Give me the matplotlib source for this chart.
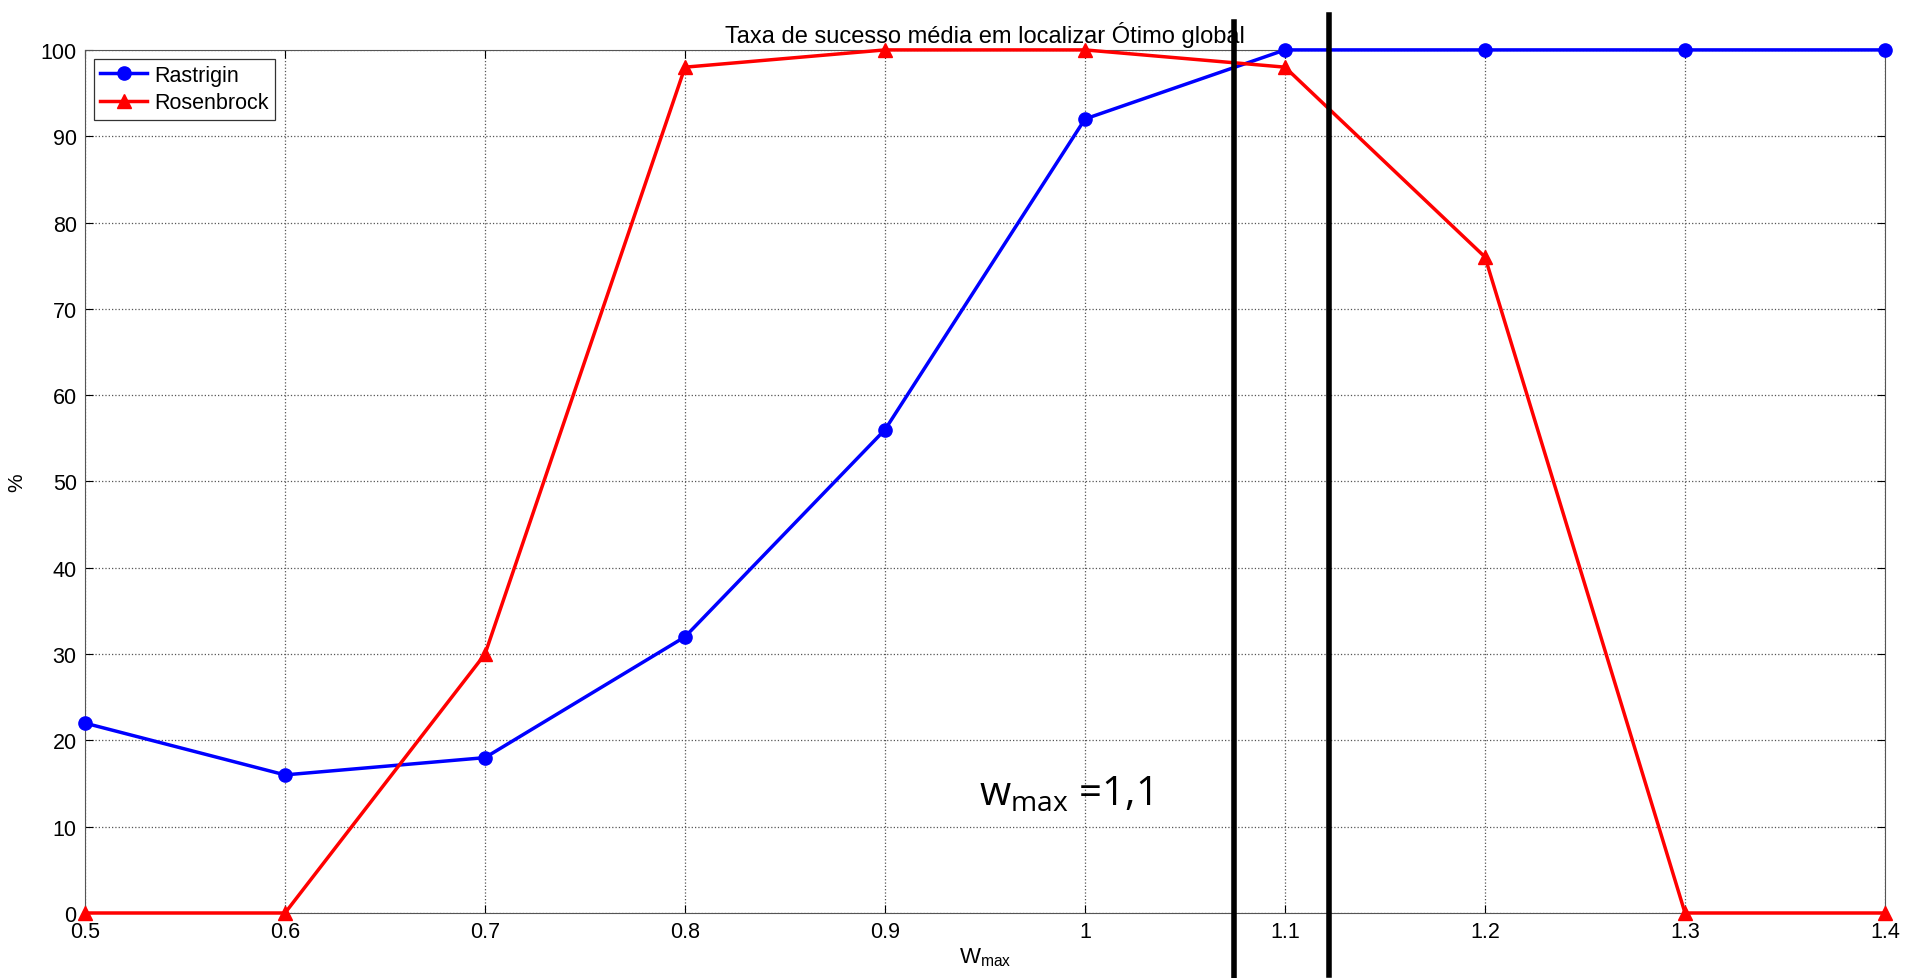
import matplotlib
matplotlib.use("Agg")
import matplotlib.pyplot as plt

plt.rcParams["font.family"] = ["Liberation Sans", "DejaVu Sans"]

w_max = [0.5, 0.6, 0.7, 0.8, 0.9, 1.0, 1.1, 1.2, 1.3, 1.4]
rastrigin = [22, 16, 18, 32, 56, 92, 100, 100, 100, 100]
rosenbrock = [0, 0, 30, 98, 100, 100, 98, 76, 0, 0]
xtick_labels = ["0.5", "0.6", "0.7", "0.8", "0.9", "1", "1.1", "1.2", "1.3", "1.4"]
yticks = list(range(0, 101, 10))

# the two hand-drawn bars around w_max = 1.1 (x, y_bottom, y_top)
marker_lines = [(1.0745, -7.5, 103.2), (1.122, -7.2, 104.0)]

fig = plt.figure(figsize=(19.19, 9.79), dpi=100)
ax = fig.add_axes([0.0443, 0.0664, 0.9380, 0.8816])

ax.plot(w_max, rastrigin, color="blue", lw=2.5, marker="o", ms=9.5, label="Rastrigin", clip_on=False, zorder=3)
ax.plot(w_max, rosenbrock, color="red", lw=2.5, marker="^", ms=10, label="Rosenbrock", clip_on=False, zorder=3)

for x, y0, y1 in marker_lines:
    ax.plot([x, x], [y0, y1], color="black", lw=4, clip_on=False, zorder=4)

ax.text(0.947, 12.6, r"$\mathregular{w_{max}}$ =1,1", fontsize=29, family="Open Sans", ha="left", va="baseline")

ax.set_xlim(0.5, 1.4)
ax.set_ylim(0, 100)
ax.set_xticks(w_max)
ax.set_xticklabels(xtick_labels)
ax.set_yticks(yticks)
ax.tick_params(direction="in", labelsize=15.5, length=6, top=True, right=True, pad=6)
ax.grid(True, linestyle=":", color="#555555", lw=0.9)
for s in ax.spines.values():
    s.set_color("#555555")

ax.set_title("Taxa de sucesso média em localizar Ótimo global", fontsize=17, pad=6)
ax.set_xlabel(r"W$_{\mathregular{max}}$", fontsize=16, labelpad=2)
ax.set_ylabel("%", fontsize=15, labelpad=10)

leg = ax.legend(loc="upper left", fontsize=15.5, fancybox=False, edgecolor="black",
                borderaxespad=0.4, handlelength=2.2, handletextpad=0.3, borderpad=0.3, labelspacing=0.3)
leg.get_frame().set_linewidth(0.9)

fig.savefig("out.png", dpi=100)
